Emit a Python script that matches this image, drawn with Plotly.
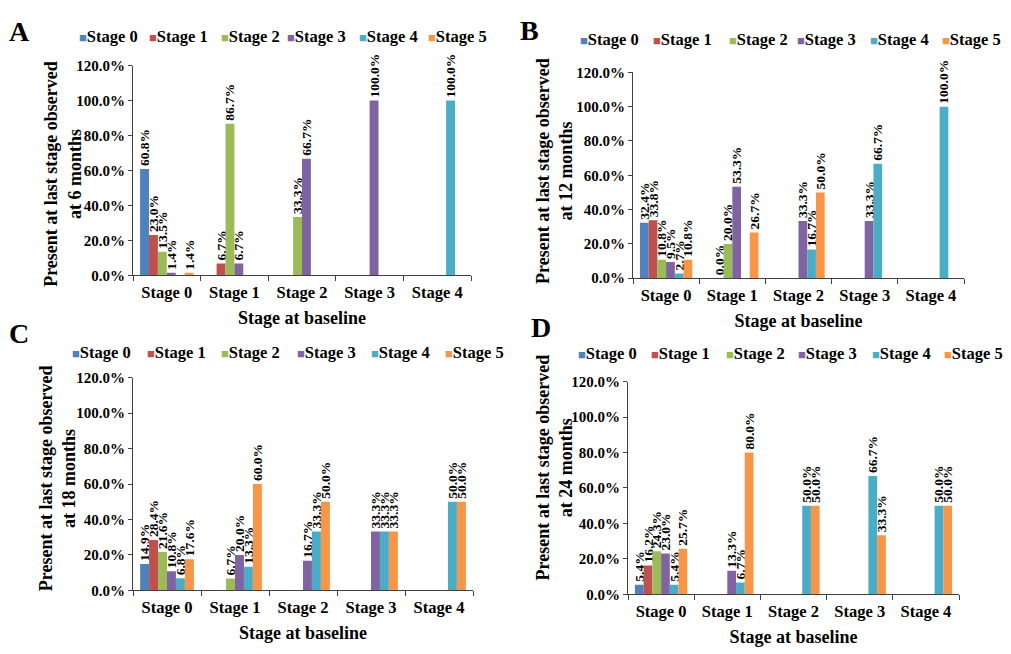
import plotly.graph_objects as go

categories = ["Stage 0", "Stage 1", "Stage 2", "Stage 3", "Stage 4"]
series_names = ["Stage 0", "Stage 1", "Stage 2", "Stage 3", "Stage 4", "Stage 5"]
colors = ["#4F81BD", "#C0504D", "#9BBB59", "#8064A2", "#4BACC6", "#F79646"]
y_ticks = [0, 20, 40, 60, 80, 100, 120]

# Panel A: 6 months
A_s0 = [60.8, None, None, None, None]
A_s1 = [23.0, 6.7, None, None, None]
A_s2 = [13.5, 86.7, 33.3, None, None]
A_s3 = [1.4, 6.7, 66.7, 100.0, None]
A_s4 = [None, None, None, None, 100.0]
A_s5 = [1.4, None, None, None, None]

# Panel B: 12 months
B_s0 = [32.4, None, None, None, None]
B_s1 = [33.8, 0.0, None, None, None]
B_s2 = [10.8, 20.0, None, None, None]
B_s3 = [9.5, 53.3, 33.3, 33.3, None]
B_s4 = [2.7, None, 16.7, 66.7, 100.0]
B_s5 = [10.8, 26.7, 50.0, None, None]

# Panel C: 18 months
C_s0 = [14.9, None, None, None, None]
C_s1 = [28.4, None, None, None, None]
C_s2 = [21.6, 6.7, None, None, None]
C_s3 = [10.8, 20.0, 16.7, 33.3, None]
C_s4 = [6.8, 13.3, 33.3, 33.3, 50.0]
C_s5 = [17.6, 60.0, 50.0, 33.3, 50.0]

# Panel D: 24 months
D_s0 = [5.4, None, None, None, None]
D_s1 = [16.2, None, None, None, None]
D_s2 = [24.3, None, None, None, None]
D_s3 = [23.0, 13.3, None, None, None]
D_s4 = [5.4, 6.7, 50.0, 66.7, 50.0]
D_s5 = [25.7, 80.0, 50.0, 33.3, 50.0]

panel_letters = ["A", "B", "C", "D"]
panel_months = ["6", "12", "18", "24"]
panel_series = [
    [A_s0, A_s1, A_s2, A_s3, A_s4, A_s5],
    [B_s0, B_s1, B_s2, B_s3, B_s4, B_s5],
    [C_s0, C_s1, C_s2, C_s3, C_s4, C_s5],
    [D_s0, D_s1, D_s2, D_s3, D_s4, D_s5],
]

W, H = 1011, 654
FONT = "Liberation Serif, Times New Roman, serif"

# layout geometry in pixels (left, right, top(120%), bottom(0%))
plot_px = [
    (133, 471, 59, 274),
    (633, 964, 66, 277),
    (133, 473, 379, 597),
    (628, 959, 383, 601),
]
letter_px = [(19, 24), (529, 23), (19, 334), (541, 327)]
ytitle_px = [(63, 170), (555, 167), (57, 482), (554, 471)]
legend_px = [
    ([77, 147, 219, 285, 357, 426], 29),
    ([578, 651, 727, 795, 868, 940], 32),
    ([70, 145, 219, 295, 369, 443], 353),
    ([576, 649, 724, 796, 870, 942], 354),
]

fig = go.Figure()
layout = dict(
    width=W, height=H,
    margin=dict(l=0, r=0, t=0, b=0),
    paper_bgcolor="white", plot_bgcolor="white",
    font=dict(family=FONT, size=13, color="black", weight="bold"),
    barmode="group", bargap=0.21, bargroupgap=0.0,
    showlegend=False,
)
annotations = []

for p in range(4):
    suffix = "" if p == 0 else str(p + 1)
    xa, ya = "x" + suffix, "y" + suffix
    for s in range(6):
        fig.add_trace(go.Bar(
            x=categories, y=panel_series[p][s], name=series_names[s],
            marker=dict(color=colors[s], line=dict(width=0)),
            xaxis=xa, yaxis=ya,
            texttemplate="%{y:.1f}%", textposition="outside",
            textangle=-90, constraintext="none", cliponaxis=False,
            textfont=dict(family=FONT, size=13.5, color="black", weight="bold"),
            showlegend=False,
        ))
    l, r, t, b = plot_px[p]
    layout["xaxis" + suffix] = dict(
        domain=[l / W, r / W], anchor=ya,
        showline=True, linecolor="#404040", linewidth=1,
        ticks="outside", ticklen=5, tickcolor="#404040", tickson="boundaries",
        ticklabelstandoff=2,
        tickfont=dict(family=FONT, size=16.5, color="black", weight="bold"),
        title=dict(text="Stage at baseline", standoff=10,
                   font=dict(family=FONT, size=18, color="black", weight="bold")),
        showgrid=False, zeroline=False,
    )
    layout["yaxis" + suffix] = dict(
        domain=[1 - b / H, 1 - t / H], anchor=xa, range=[0, 120],
        tickvals=y_ticks, ticktext=[f"{v:.1f}%" for v in y_ticks],
        showline=True, linecolor="#404040", linewidth=1,
        ticks="outside", ticklen=4, tickcolor="#404040",
        tickfont=dict(family=FONT, size=15, color="black", weight="bold"),
        showgrid=False, zeroline=False,
    )
    tx, ty = ytitle_px[p]
    annotations.append(dict(
        text=f"Present at last stage observed<br>at {panel_months[p]} months",
        x=tx / W, y=1 - ty / H, xref="paper", yref="paper",
        xanchor="center", yanchor="middle", showarrow=False, textangle=-90,
        font=dict(family=FONT, size=18, color="black", weight="bold"),
    ))
    lx, ly = letter_px[p]
    annotations.append(dict(
        text=panel_letters[p], x=lx / W, y=1 - ly / H, xref="paper", yref="paper",
        xanchor="center", yanchor="middle", showarrow=False,
        font=dict(family=FONT, size=28, color="black", weight="bold"),
    ))
    xs, yl = legend_px[p]
    for s in range(6):
        annotations.append(dict(
            text=f"<span style='color:{colors[s]};font-size:13px'>■</span>{series_names[s]}",
            x=xs[s] / W, y=1 - yl / H, xref="paper", yref="paper",
            xanchor="left", yanchor="middle", showarrow=False,
            font=dict(family=FONT, size=16.5, color="black", weight="bold"),
        ))

layout["annotations"] = annotations
fig.update_layout(**layout)
fig.write_html("out.html")
